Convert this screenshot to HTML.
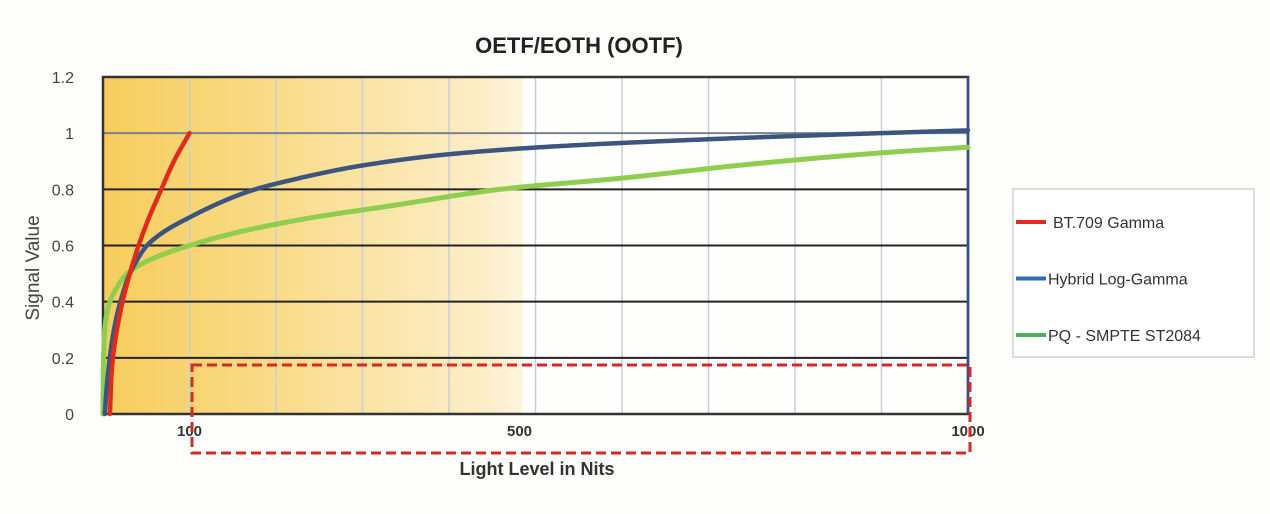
<!DOCTYPE html>
<html><head><meta charset="utf-8"><style>
html,body{margin:0;padding:0;background:#fefefd;}
svg{display:block;font-family:"Liberation Sans",sans-serif;}
</style></head><body>
<svg width="1270" height="514" viewBox="0 0 1270 514">
<defs>
<linearGradient id="bg" x1="0" x2="1" y1="0" y2="0">
<stop offset="0" stop-color="#f6cc5c"/>
<stop offset="0.45" stop-color="#f9dd8e"/>
<stop offset="0.9" stop-color="#fcedc6"/>
<stop offset="1" stop-color="#fdf4dc"/>
</linearGradient>
</defs>
<g id="root"></g>
</svg>
<script>
const yTicks=[0,0.2,0.4,0.6,0.8,1,1.2];
const yTickLabels=["0","0.2","0.4","0.6","0.8","1","1.2"];
const xGrid=[100,200,300,400,500,600,700,800,900,1000];
const xTickVals=[100,500,1000];
const xTickLabels=["100","500","1000"];
const bt709X=[8,10,14,25,39,52,66,82,100];
const bt709Y=[0,0.15,0.26,0.43,0.58,0.69,0.79,0.9,1.0];
const hlgX=[2,5,10,16,23,31,54,100,166,200,300,400,517,650,800,1000];
const hlgY=[0,0.12,0.25,0.35,0.43,0.5,0.61,0.7,0.79,0.82,0.885,0.925,0.952,0.972,0.99,1.01];
const pqX=[0,0.3,0.8,2,4,8,16,28,55,100,160,243,330,459,600,750,900,1000];
const pqY=[0,0.15,0.22,0.3,0.35,0.4,0.45,0.5,0.55,0.6,0.65,0.7,0.74,0.8,0.84,0.89,0.93,0.95];
const legendLabels=["BT.709  Gamma","Hybrid Log-Gamma","PQ - SMPTE ST2084"];

const L=103,R=968,T=77,B=414;
const x=v=>L+(R-L)*v/1000;
const y=v=>B-(B-T)*v/1.2;
const NS="http://www.w3.org/2000/svg";
const root=document.getElementById('root');
function mk(tag,attrs,parent){const e=document.createElementNS(NS,tag);for(const k in attrs)e.setAttribute(k,attrs[k]);(parent||root).appendChild(e);return e;}

let e;
e=mk('rect',{x:L,y:T,width:x(485)-L,height:B-T,fill:'url(#bg)'});


xGrid.forEach(v=>{e=mk('line',{x1:x(v),x2:x(v),y1:T,y2:B,stroke:'#c9cdd6','stroke-width':1.5});

});
yTicks.forEach((v,i)=>{
 if(v>0&&v<1.2){e=mk('line',{x1:L,x2:R,y1:y(v),y2:y(v),stroke:v==1?'#7a8190':'#222',"stroke-width":2});
 
 }
 e=mk('text',{x:74,y:y(v)+6,'text-anchor':'end','font-size':16,fill:'#444'});e.textContent=yTickLabels[i];
 
 
});
e=mk('rect',{x:L,y:T,width:R-L,height:B-T,fill:'none',stroke:'#333','stroke-width':2.5});


e=mk('line',{x1:R,x2:R,y1:T,y2:B,stroke:'#34508a','stroke-width':2.5});



function monotone(xs,ys){
 const n=xs.length,d=[],m=new Array(n);
 for(let i=0;i<n-1;i++)d.push((ys[i+1]-ys[i])/(xs[i+1]-xs[i]));
 m[0]=d[0];m[n-1]=d[n-2];
 for(let i=1;i<n-1;i++){m[i]=(d[i-1]*d[i]<=0)?0:2/(1/d[i-1]+1/d[i]);}
 return t=>{
  let i=0;while(i<n-2&&t>xs[i+1])i++;
  const h=xs[i+1]-xs[i],s=(t-xs[i])/h;
  const h00=2*s*s*s-3*s*s+1,h10=s*s*s-2*s*s+s,h01=-2*s*s*s+3*s*s,h11=s*s*s-s*s;
  return h00*ys[i]+h10*h*m[i]+h01*ys[i+1]+h11*h*m[i+1];
 };
}
function series(xs,ys,color,w,name){
 const f=monotone(xs,ys);
 const pts=[];
 const x0=xs[0],x1=xs[xs.length-1];
 for(let k=0;k<=800;k++){
  const u=k/800;
  const t=x0+(x1-x0)*Math.pow(u,2.5);
  pts.push(x(t).toFixed(2)+','+y(f(t)).toFixed(2));
 }
 const el=mk('polyline',{points:pts.join(' '),fill:'none',stroke:color,'stroke-width':w,'stroke-linecap':'round','stroke-linejoin':'round'});
 
 
}
series(pqX,pqY,'#8fcd4f',5,'pq-line');
series(hlgX,hlgY,'#3b5580',4.5,'hlg-line');
series(bt709X,bt709Y,'#e02a1c',4.5,'bt709-line');

xTickVals.forEach((v,i)=>{e=mk('text',{x:x(v)-(v==500?16:0),y:436,'text-anchor':'middle','font-size':15,'font-weight':'bold',fill:'#333'});e.textContent=xTickLabels[i];
 
 });

e=mk('rect',{x:192,y:365,width:778,height:88,fill:'none',stroke:'#d42a22','stroke-width':3,'stroke-dasharray':'10,5'});



e=mk('text',{x:579,y:53,'text-anchor':'middle','font-size':22,'font-weight':'bold',fill:'#222'});e.textContent='OETF/EOTH  (OOTF)';


e=mk('text',{x:537,y:475,'text-anchor':'middle','font-size':18,'font-weight':'bold',fill:'#333'});e.textContent='Light Level in Nits';


e=mk('text',{x:0,y:0,'text-anchor':'middle','font-size':19,fill:'#444',transform:'translate(39,268) rotate(-90)'});e.textContent='Signal Value';



e=mk('rect',{x:1013,y:189,width:241,height:168,fill:'#fff',stroke:'#d0d0d0','stroke-width':1.5});


const lc=['#e02a1c','#2f6cb0','#4fae5a'];
legendLabels.forEach((t,i)=>{
 const yy=222+i*56.5;
 e=mk('line',{x1:1016,x2:1046,y1:yy,y2:yy,stroke:lc[i],'stroke-width':4});
 
 
 e=mk('text',{x:i==0?1053:1048,y:yy+6,'font-size':16,fill:'#333'});e.textContent=t;
 
 
});
</script>
</body></html>
